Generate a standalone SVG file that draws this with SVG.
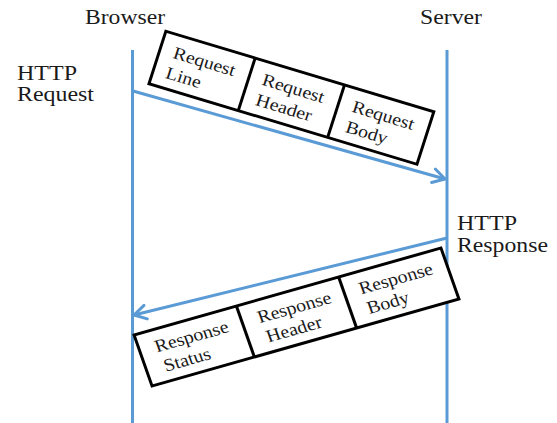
<svg xmlns="http://www.w3.org/2000/svg" width="557" height="423" viewBox="0 0 557 423">
<style>
text{font-family:"Liberation Serif","Times New Roman",serif;fill:#1a1a1a}
.lbl{font-size:20px}
.box{font-size:18px}
.life{stroke:#5B9BD5;stroke-width:3;fill:none}
.msg{stroke:#5B9BD5;stroke-width:3;fill:none}
.frame{fill:#fff;stroke:#000;stroke-width:3}
.div{stroke:#000;stroke-width:3}
</style>
<defs>
<marker id="arr" markerUnits="userSpaceOnUse" markerWidth="20" markerHeight="20" refX="15" refY="10" orient="auto" overflow="visible">
<path d="M3,3 L15,10 L3,17" fill="none" stroke="#5B9BD5" stroke-width="3" stroke-linecap="round" stroke-linejoin="round"/>
</marker>
</defs>
<rect width="557" height="423" fill="#fff"/>
<g id="browser">
<line class="life" x1="132.5" y1="50" x2="132.5" y2="423"/>
<text class="lbl" x="85" y="24" textLength="80" lengthAdjust="spacingAndGlyphs">Browser</text>
</g>
<g id="server">
<line class="life" x1="447" y1="50" x2="447" y2="423"/>
<text class="lbl" x="420" y="24" textLength="62" lengthAdjust="spacingAndGlyphs">Server</text>
</g>
<g id="connectors">
<line class="msg" x1="133" y1="91" x2="445" y2="179" marker-end="url(#arr)"/>
<line class="msg" x1="447" y1="238" x2="134" y2="315" marker-end="url(#arr)"/>
</g>
<g id="http-request">
<text class="lbl" x="17" y="80" textLength="60" lengthAdjust="spacingAndGlyphs">HTTP</text>
<text class="lbl" x="17" y="101" textLength="77" lengthAdjust="spacingAndGlyphs">Request</text>
</g>
<g id="http-response">
<text class="lbl" x="457" y="230" textLength="60" lengthAdjust="spacingAndGlyphs">HTTP</text>
<text class="lbl" x="457" y="252" textLength="91" lengthAdjust="spacingAndGlyphs">Response</text>
</g>
<g id="request-packet" transform="matrix(0.957,0.2875,-0.296,0.921,291.4,97.75)">
<rect class="frame" x="-140" y="-28.5" width="280" height="57"/>
<line class="div" x1="-46.7" y1="-28.5" x2="-46.7" y2="28.5"/>
<line class="div" x1="46.7" y1="-28.5" x2="46.7" y2="28.5"/>
<g id="request-line">
<text class="box" x="-126" y="-4" textLength="64" lengthAdjust="spacingAndGlyphs">Request</text>
<text class="box" x="-127" y="18" textLength="36" lengthAdjust="spacingAndGlyphs">Line</text>
</g>
<g id="request-header">
<text class="box" x="-33" y="-4" textLength="64" lengthAdjust="spacingAndGlyphs">Request</text>
<text class="box" x="-33" y="18" textLength="58" lengthAdjust="spacingAndGlyphs">Header</text>
</g>
<g id="request-body">
<text class="box" x="61" y="-4" textLength="64" lengthAdjust="spacingAndGlyphs">Request</text>
<text class="box" x="61" y="18" textLength="43" lengthAdjust="spacingAndGlyphs">Body</text>
</g>
</g>
<g id="response-packet" transform="matrix(0.959,-0.272,0.333,0.944,296.5,317)">
<rect class="frame" x="-160" y="-27" width="320" height="54"/>
<line class="div" x1="-53.3" y1="-27" x2="-53.3" y2="27"/>
<line class="div" x1="53.3" y1="-27" x2="53.3" y2="27"/>
<g id="response-status">
<text class="box" x="-144" y="-4" textLength="76" lengthAdjust="spacingAndGlyphs">Response</text>
<text class="box" x="-142" y="17" textLength="48" lengthAdjust="spacingAndGlyphs">Status</text>
</g>
<g id="response-header">
<text class="box" x="-37" y="-4" textLength="76" lengthAdjust="spacingAndGlyphs">Response</text>
<text class="box" x="-35" y="17" textLength="57" lengthAdjust="spacingAndGlyphs">Header</text>
</g>
<g id="response-body">
<text class="box" x="69" y="-4" textLength="76" lengthAdjust="spacingAndGlyphs">Response</text>
<text class="box" x="70" y="17" textLength="43" lengthAdjust="spacingAndGlyphs">Body</text>
</g>
</g>
</svg>
